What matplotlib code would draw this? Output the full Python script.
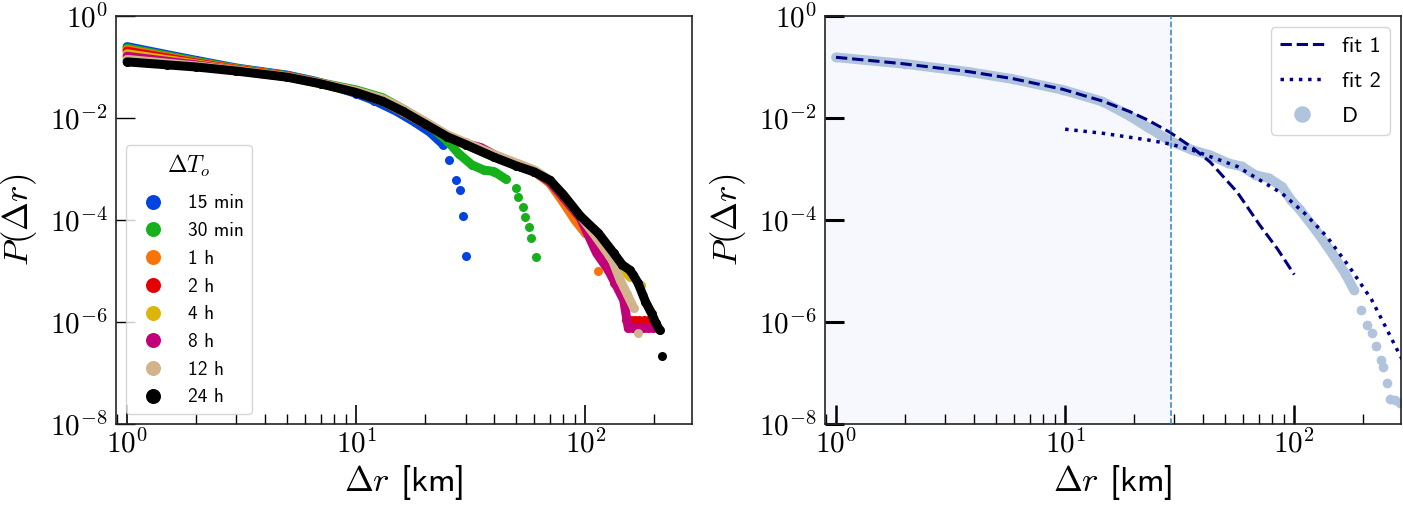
import numpy as np
import matplotlib
matplotlib.use('Agg')
import matplotlib.pyplot as plt
from matplotlib.ticker import LogLocator, NullLocator, NullFormatter

plt.rcParams['mathtext.fontset'] = 'cm'
plt.rcParams['font.family'] = ['cmss10', 'DejaVu Sans']
plt.rcParams['axes.formatter.use_mathtext'] = True

# ---- left panel: P(dr) for each observation interval ----
x_15min = [1.0, 1.5, 2.0, 3.0, 4.0, 5.0, 6.5, 8.0, 10, 12, 15, 18, 21, 24, 25.4, 27.2, 28.4, 29.3, 30.2]
p_15min = [2.51e-1, 1.74e-1, 1.35e-1, 9.55e-2, 7.94e-2, 6.92e-2, 5.37e-2, 4.17e-2, 3.02e-2, 2.19e-2,
           1.35e-2, 8.3e-3, 5.25e-3, 3.0e-3, 1.5e-3, 6.0e-4, 3.9e-4, 1.2e-4, 2.0e-5]
x_30min = [1, 2, 3, 5, 7, 10, 13, 16, 20, 25, 28, 32, 36, 40, 45, 49.8, 50.8, 53.2, 54.5, 56.9, 58.2, 60.8]
p_30min = [2.34e-1, 1.29e-1, 9.33e-2, 6.76e-2, 4.9e-2, 3.55e-2, 2.51e-2, 1.51e-2, 8.32e-3, 3.55e-3, 2.0e-3,
           1.2e-3, 9.55e-4, 8.91e-4, 6.31e-4, 4.17e-4, 2.88e-4, 1.82e-4, 1.17e-4, 7.41e-5, 4.37e-5, 1.91e-5]
x_1h = [1, 2, 3, 5, 7, 10, 13, 16, 20, 25, 30, 40, 50, 60, 70, 80, 90, 100, 114]
p_1h = [2.19e-1, 1.23e-1, 9.12e-2, 6.61e-2, 4.79e-2, 3.31e-2, 2.34e-2, 1.41e-2, 7.94e-3, 4.47e-3, 3.16e-3,
        1.78e-3, 1.26e-3, 8.91e-4, 5.25e-4, 2.24e-4, 1.0e-4, 5.5e-5, 9.8e-6]
x_2h = [1, 2, 3, 5, 7, 10, 13, 16, 20, 25, 30, 40, 50, 60, 70, 80, 95, 106, 116, 133, 143,
        151, 158, 165, 172, 180, 187, 195]
p_2h = [2.04e-1, 1.2e-1, 8.91e-2, 6.61e-2, 4.79e-2, 3.24e-2, 2.19e-2, 1.32e-2, 7.59e-3, 4.27e-3, 3.02e-3,
        1.78e-3, 1.2e-3, 8.91e-4, 5.62e-4, 2.82e-4, 1.12e-4, 5.0e-5, 2.04e-5, 5.75e-6, 3.89e-6,
        1.1e-6, 1.1e-6, 1.1e-6, 1.1e-6, 1.1e-6, 1.1e-6, 1.1e-6]
x_4h = [1, 2, 3, 5, 7, 10, 13, 16, 20, 25, 30, 40, 50, 60, 70, 80, 95, 115, 135, 156, 175, 179, 196]
p_4h = [1.82e-1, 1.15e-1, 8.71e-2, 6.46e-2, 4.68e-2, 3.24e-2, 2.14e-2, 1.32e-2, 7.59e-3, 4.37e-3, 3.02e-3,
        1.74e-3, 1.2e-3, 8.71e-4, 5.62e-4, 2.82e-4, 1.17e-4, 4.47e-5, 1.58e-5, 7.76e-6, 5.37e-6, 3.39e-6, 1.48e-6]
x_8h = [1, 2, 3, 5, 7, 10, 13, 16, 20, 25, 30, 35, 40, 50, 60, 70, 80, 95, 112, 126, 135, 147,
        154, 162, 170, 178, 187, 198]
p_8h = [1.62e-1, 1.1e-1, 8.51e-2, 6.46e-2, 4.79e-2, 3.31e-2, 2.24e-2, 1.41e-2, 7.94e-3, 4.47e-3, 3.16e-3,
        2.63e-3, 1.91e-3, 1.26e-3, 8.91e-4, 5.62e-4, 2.82e-4, 1.12e-4, 2.24e-5, 1.05e-5, 5.75e-6, 2.69e-6,
        7.6e-7, 7.6e-7, 7.6e-7, 7.6e-7, 7.6e-7, 7.6e-7]
x_12h = [1, 2, 3, 5, 7, 10, 13, 16, 20, 25, 30, 40, 50, 60, 70, 80, 95, 110, 131, 142, 152, 163, 169]
p_12h = [1.41e-1, 1.05e-1, 8.51e-2, 6.46e-2, 4.79e-2, 3.39e-2, 2.4e-2, 1.51e-2, 8.51e-3, 4.68e-3, 3.31e-3,
         1.91e-3, 1.32e-3, 9.55e-4, 6.03e-4, 3.16e-4, 1.2e-4, 5.01e-5, 1.66e-5, 6.61e-6, 3.55e-6, 1.86e-6, 6.17e-7]
x_24h = [1, 1.5, 2, 3, 5, 7, 10, 13, 16, 20, 25, 30, 40, 50, 60, 70, 80, 95, 114, 133, 145, 156,
         162, 170, 183, 195, 203, 211, 217]
p_24h = [1.26e-1, 1.1e-1, 1.0e-1, 8.32e-2, 6.31e-2, 4.68e-2, 3.16e-2, 2.14e-2, 1.35e-2, 7.59e-3, 4.27e-3,
         3.02e-3, 1.7e-3, 1.15e-3, 8.71e-4, 6.03e-4, 3.16e-4, 1.2e-4, 5.5e-5, 2.24e-5, 1.32e-5, 1.05e-5,
         8.32e-6, 5.75e-6, 2.51e-6, 1.45e-6, 9.55e-7, 6.92e-7, 2.14e-7]

labels = ['15 min', '30 min', '1 h', '2 h', '4 h', '8 h', '12 h', '24 h']
colors = ['#0343df', '#15b01a', '#f97306', '#e50000', '#dbb40c', '#c20078', 'tan', 'black']
# how many leading points of each series form the dense band (rest are single dots)
band_len = [14, 15, 18, 19, 20, 28, 22, 28]

# ---- right panel: D with two fits ----
x_D = [1, 2, 3.8, 5.9, 9.8, 14.6, 19.1, 22.9, 28.7, 36, 43, 51.6, 59, 67.6, 77.4, 88.5, 96.8, 106,
       127, 146, 167, 182, 195, 208, 218, 228, 239, 244, 255, 261, 274, 288]
p_D = [1.55e-1, 1.15e-1, 8.0e-2, 5.8e-2, 3.55e-2, 2.09e-2, 1.1e-2, 6.6e-3, 3.55e-3, 2.34e-3, 1.86e-3,
       1.29e-3, 1.12e-3, 7.59e-4, 6.61e-4, 4.47e-4, 2.45e-4, 1.58e-4, 5.5e-5, 2.24e-5, 8.91e-6, 4.27e-6,
       1.74e-6, 8.71e-7, 6.03e-7, 3.31e-7, 1.78e-7, 1.32e-7, 6.31e-8, 3.16e-8, 2.95e-8, 2.57e-8]
band_len_D = 22

x_fit1 = [1, 1.92, 3.78, 5.92, 9.77, 14.6, 19.1, 22.9, 28.7, 36, 43, 56.4, 70.6, 84.5, 100]
p_fit1 = [1.55e-1, 1.17e-1, 8.13e-2, 5.9e-2, 3.65e-2, 2.14e-2, 1.34e-2, 9.16e-3, 5.22e-3, 2.61e-3,
          1.36e-3, 3.5e-4, 8.0e-5, 2.7e-5, 8.5e-6]
x_fit2 = [10, 14.6, 22.9, 28.7, 36, 56.4, 88.5, 111, 139, 174, 218, 250, 286, 300]
p_fit2 = [6.03e-3, 5.01e-3, 3.72e-3, 3.09e-3, 2.34e-3, 1.12e-3, 3.31e-4, 1.35e-4, 4.68e-5, 1.2e-5,
          2.69e-6, 8.13e-7, 2.45e-7, 1.66e-7]
cutoff = 29

xtick_vals = [1, 10, 100]
xtick_labels = [r'$10^{0}$', r'$10^{1}$', r'$10^{2}$']
ytick_vals = [1e0, 1e-2, 1e-4, 1e-6, 1e-8]
ytick_labels = [r'$10^{0}$', r'$10^{-2}$', r'$10^{-4}$', r'$10^{-6}$', r'$10^{-8}$']


def style_axis(ax, ywidth, xwidth):
    ax.set_xscale('log')
    ax.set_yscale('log')
    ax.set_xlim(0.895, 292)
    ax.set_ylim(1e-8, 1)
    ax.set_xticks(xtick_vals)
    ax.set_xticklabels(xtick_labels)
    ax.set_yticks(ytick_vals)
    ax.set_yticklabels(ytick_labels)
    ax.xaxis.set_minor_locator(LogLocator(base=10, subs=np.arange(2, 10), numticks=50))
    ax.xaxis.set_minor_formatter(NullFormatter())
    ax.yaxis.set_minor_locator(NullLocator())
    ax.tick_params(axis='both', which='major', direction='in', length=14, labelsize=21)
    ax.tick_params(axis='y', which='major', width=ywidth, pad=6)
    ax.tick_params(axis='x', which='major', width=xwidth, pad=4)
    ax.tick_params(axis='x', which='minor', direction='in', length=7, width=1)
    for sp in ax.spines.values():
        sp.set_linewidth(1.2)
        sp.set_color('#222222')
    ax.set_xlabel(r'$\Delta r$ [km]', fontsize=25, labelpad=3)
    ax.set_ylabel(r'$P(\Delta r)$', fontsize=25, labelpad=8)


fig = plt.figure(figsize=(14.03, 5.09), dpi=100)
ax1 = fig.add_axes([0.0827, 0.167, 0.4105, 0.8016])
ax2 = fig.add_axes([0.588, 0.167, 0.4105, 0.8016])

series = [(x_15min, p_15min), (x_30min, p_30min), (x_1h, p_1h), (x_2h, p_2h),
          (x_4h, p_4h), (x_8h, p_8h), (x_12h, p_12h), (x_24h, p_24h)]
for (xs, ps), lab, c, n in zip(series, labels, colors, band_len):
    ax1.plot(xs[:n], ps[:n], '-', color=c, lw=6.5, solid_capstyle='round', solid_joinstyle='round')
    ax1.plot(xs, ps, 'o', color=c, ms=6.5, mec='none', label=lab)

style_axis(ax1, 1.0, 1.2)
leg1 = ax1.legend(loc='lower left', title='$\\Delta T_o$\n', fontsize=14, title_fontsize=17,
                  markerscale=1.66, labelspacing=0.5)
leg1.get_title().set_linespacing(0.05)

# right panel
ax2.axvspan(0.895, cutoff, color='#f6f8fe', zorder=0)
ax2.plot(x_D[:band_len_D], p_D[:band_len_D], '-', color='lightsteelblue', lw=7,
         solid_capstyle='round', solid_joinstyle='round', zorder=2)
ax2.plot(x_D, p_D, 'o', color='lightsteelblue', ms=7, mec='none', label='D', zorder=2)
ax2.plot(x_fit1, p_fit1, '--', color='navy', lw=2.2, label='fit 1', zorder=3)
ax2.plot(x_fit2, p_fit2, ':', color='darkblue', lw=2.5, label='fit 2', zorder=3)
ax2.axvline(cutoff, color='#2c84c6', ls='--', lw=1.1, zorder=4)

style_axis(ax2, 2.2, 1.8)
h, l = ax2.get_legend_handles_labels()
order = [l.index('fit 1'), l.index('fit 2'), l.index('D')]
ax2.legend([h[i] for i in order], [l[i] for i in order], loc='upper right', fontsize=16,
           markerscale=1.7, labelspacing=0.7)

fig.savefig('out.png', dpi=100)
